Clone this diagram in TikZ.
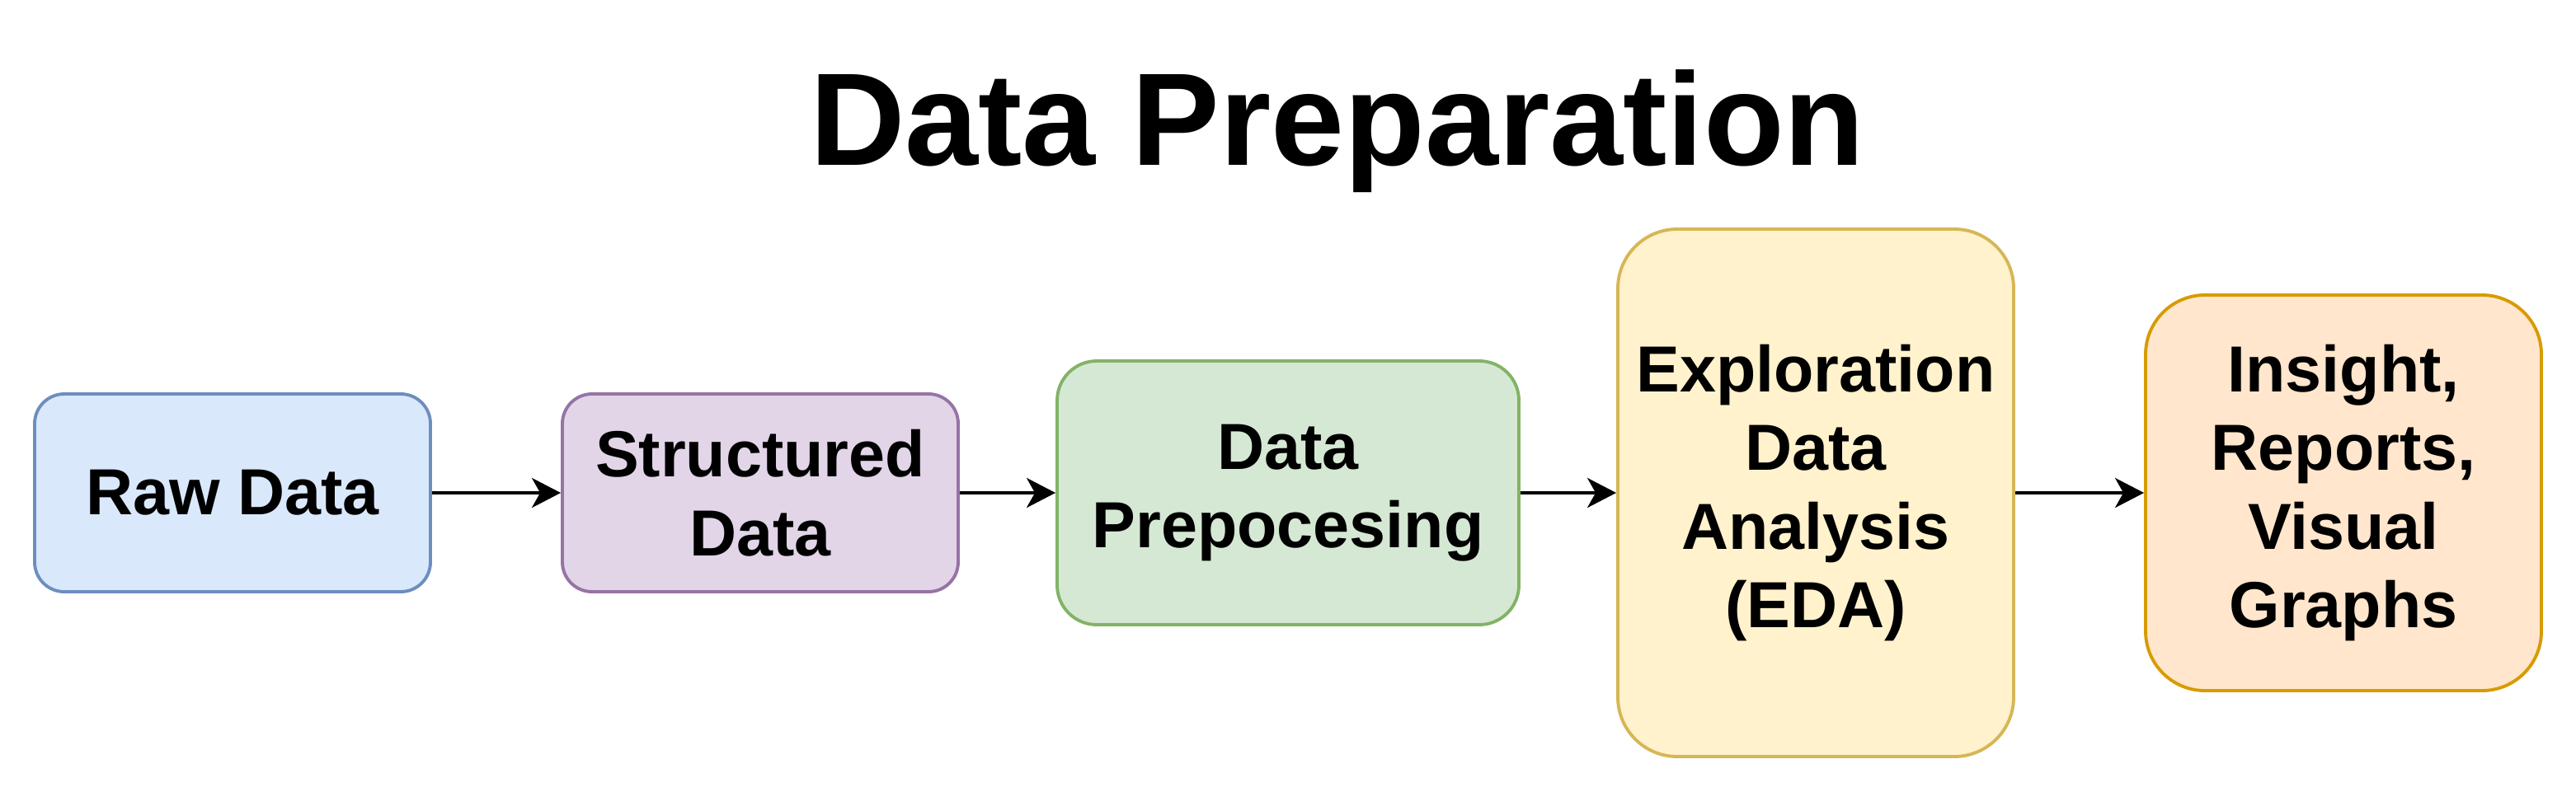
\documentclass[tikz,border=0pt]{standalone}
\usepackage{fontspec}
\setmainfont{Liberation Sans}
\usetikzlibrary{arrows.meta, positioning}

\definecolor{blueFill}{HTML}{DAE8FC}
\definecolor{blueLine}{HTML}{6C8EBF}
\definecolor{purpleFill}{HTML}{E1D5E7}
\definecolor{purpleLine}{HTML}{9673A6}
\definecolor{greenFill}{HTML}{D5E8D4}
\definecolor{greenLine}{HTML}{82B366}
\definecolor{yellowFill}{HTML}{FFF2CC}
\definecolor{yellowLine}{HTML}{D6B656}
\definecolor{orangeFill}{HTML}{FFE6CC}
\definecolor{orangeLine}{HTML}{D79B00}

\begin{document}
\begin{tikzpicture}[
    stage/.style={rectangle, draw, line width=1.1pt, inner sep=0pt, align=center,
        minimum width=4.8cm, minimum height=2.4cm, rounded corners=0.36cm,
        font=\fontsize{22.5}{27.2}\selectfont\bfseries},
    arrow/.style={-{Stealth[length=0.35cm, width=0.36cm, inset=0.1cm]}, line width=1.15pt}
]
\useasboundingbox (0, 0) rectangle (31.24, 9.6);

% Title
\node[anchor=base, font=\fontsize{45.5}{55}\selectfont\bfseries] (title) at (16.22, 7.6) {Data Preparation};

% Stages
\node[stage, fill=blueFill, draw=blueLine] (raw) at (2.82, 3.62) {Raw Data};
\node[stage, fill=purpleFill, draw=purpleLine] (structured) at (9.22, 3.62) {Structured\\Data};
\node[stage, fill=greenFill, draw=greenLine, minimum width=5.6cm, minimum height=3.2cm, rounded corners=0.48cm] (prep) at (15.62, 3.62) {Data\\Prepocesing};
\node[stage, fill=yellowFill, draw=yellowLine, minimum height=6.4cm, rounded corners=0.72cm] (eda) at (22.02, 3.62) {Exploration\\Data\\Analysis\\(EDA)};
\node[stage, fill=orangeFill, draw=orangeLine, minimum height=4.8cm, rounded corners=0.72cm] (insight) at (28.42, 3.62) {Insight,\\Reports,\\Visual\\Graphs};

% Arrows
\draw[arrow] (raw) -- (structured);
\draw[arrow] (structured) -- (prep);
\draw[arrow] (prep) -- (eda);
\draw[arrow] (eda) -- (insight);

\end{tikzpicture}
\end{document}
